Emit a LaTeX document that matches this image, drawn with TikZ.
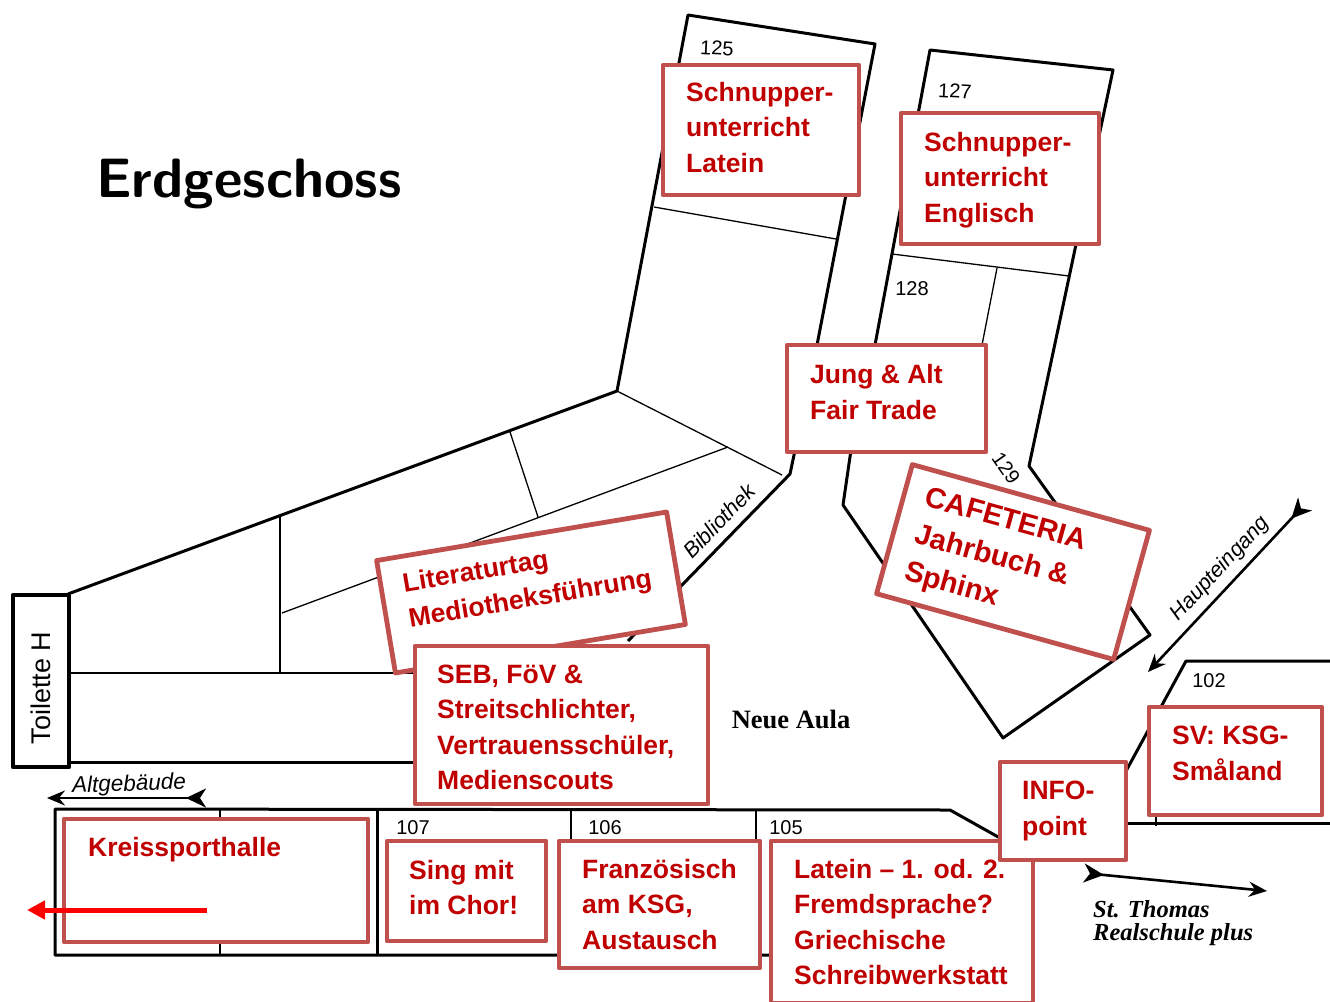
\documentclass[tikz,border=0pt]{standalone}
\usepackage{fontspec}
\setmainfont{Liberation Sans}
\newfontfamily\serifplan{Liberation Serif}
\usetikzlibrary{arrows.meta}
\definecolor{boxred}{HTML}{C0504D}
\definecolor{txtred}{HTML}{C00000}
\tikzset{
  thickwall/.style={draw=black,line width=3pt,line join=round},
  thinwall/.style={draw=black,line width=1.3pt},
  rbox/.style={draw=boxred,fill=white,line width=4.8pt,line join=round,inner sep=0pt,rectangle},
  rtext/.style={text=txtred,inner sep=0pt,anchor=north west,align=left,font=\fontsize{26.5}{35.5}\selectfont\bfseries},
  rtextbig/.style={rtext,font=\fontsize{29}{38.5}\selectfont\bfseries},
  roomno/.style={inner sep=0pt,font=\fontsize{20}{22}\selectfont},
  handlabel/.style={inner sep=0pt,font=\fontsize{21.5}{22}\selectfont\itshape},
  planarrow/.style={draw=black,line width=2.6pt,{Stealth[reversed,length=20pt,width=19pt,inset=6pt]}-{Stealth[length=18pt,width=15pt,inset=6pt]}}
}
\begin{document}
\begin{tikzpicture}[x=1pt,y=-1pt]
\useasboundingbox[fill=white] (0,0) rectangle (1330,1001);
% left wing
\draw[thickwall] (68,594) -- (617,391) -- (688,15) -- (875,44) -- (817,345) -- (794,455) -- (790,474) -- (683,584) -- (628,641);
\draw[thinwall] (654,207) -- (836,239);
\draw[thinwall] (617,391) -- (782,475);
\draw[thinwall] (728,447) -- (282,613);
\draw[thinwall] (510,432) -- (538,517);
\draw[thinwall] (280,517) -- (280,673);
\draw[thinwall] (70,673) -- (415,673);
\draw[thickwall] (70,762) -- (415,762);
% right wing
\draw[thickwall] (875,345) -- (930,50) -- (1113,70) -- (1029,466) -- (1150,635) -- (1003,738) -- (843,505) -- (851,450);
\draw[thinwall] (892,254) -- (1069,276);
\draw[thinwall] (997,268) -- (982,345);
% bottom block
\draw[thickwall] (770,955) -- (55,955) -- (55,809) -- (950,810) -- (1000,838);
\draw[thinwall] (220,809) -- (220,955);
\draw[thickwall] (377,809) -- (377,955);
\draw[thinwall,line width=1.8pt] (571,809) -- (571,841);
\draw[thinwall,line width=1.8pt] (756,809) -- (756,841);
% room 102
\draw[thickwall] (1126,771) -- (1186,661) -- (1330,661);
\draw[thickwall] (1126,823) -- (1330,823);
\draw[thinwall] (1156,815) -- (1156,826);
% plan labels
\node[inner sep=0pt,font=\fontsize{55.5}{58}\selectfont\bfseries\sffamily] (title) at (249,184) {Erdgeschoss};
\node[roomno,rotate=-3] (r125) at (717,48) {125};
\node[roomno,rotate=-3] (r127) at (955,91) {127};
\node[roomno] (r128) at (912,289) {128};
\node[roomno,rotate=-55] (r129) at (1006,468) {129};
\node[roomno] (r107) at (413,828) {107};
\node[roomno] (r106) at (605,828) {106};
\node[roomno] (r105) at (786,828) {105};
\node[roomno] (r102) at (1209,681) {102};
\node[handlabel,rotate=46] (bib) at (719,521) {Bibliothek};
\node[handlabel,rotate=47] (haupt) at (1220,569) {Haupteingang};
\node[handlabel,font=\fontsize{22.5}{24}\selectfont\itshape,rotate=2] (alt) at (129,785) {Altgebäude};
\node[inner sep=0pt,font=\fontsize{26.5}{28}\selectfont\serifplan\bfseries] (aula) at (791,719) {Neue Aula};
\node[inner sep=0pt,align=left,anchor=north west,font=\fontsize{24.5}{23}\selectfont\serifplan\itshape\bfseries] (thomas) at (1093,900) {St. Thomas\\Realschule plus};
% arrows
\coordinate (altA) at (206,798); \coordinate (altB) at (47,798);
\draw[planarrow] (altA) -- (altB);
\coordinate (hA) at (1305,504); \coordinate (hB) at (1148,672);
\draw[planarrow] (hA) -- (hB);
\coordinate (tA) at (1084,873); \coordinate (tB) at (1267,891);
\draw[planarrow] (tA) -- (tB);
% toilet
\node[draw=black,fill=white,line width=4.8pt,line join=round,minimum width=56pt,minimum height=172pt,inner sep=0pt] (toilette) at (41,681) {};
\node[rotate=90,inner sep=0pt,font=\fontsize{27}{28}\selectfont] (toilettetext) at (41,688) {Toilette H};
% boxes
\node[rbox,minimum width=196pt,minimum height=130pt] (b1) at (761,130) {};
\node[rtext] (t1) at (686,82) {Schnupper-\\unterricht\\Latein};
\node[rbox,minimum width=198pt,minimum height=131pt] (b2) at (1000,178.5) {};
\node[rtext] (t2) at (924,132) {Schnupper-\\unterricht\\Englisch};
\node[rbox,minimum width=199pt,minimum height=107pt] (b3) at (886.5,398.5) {};
\node[rtext] (t3) at (810,364.5) {Jung \& Alt\\Fair Trade};
\node[rbox,rotate=9.5,minimum width=294pt,minimum height=114pt] (b4) at (531,592.5) {};
\node[rtext,rotate=9.5] (t4) at (401,573) {Literaturtag\\Mediotheksführung};
\node[rbox,rotate=-15.5,minimum width=246pt,minimum height=134pt] (b5) at (1013,562) {};
\node[rtextbig,rotate=-15.5] (t5) at (929,486) {CAFETERIA\\Jahrbuch \&\\Sphinx};
\node[rbox,minimum width=293pt,minimum height=158pt] (b6) at (561.5,725) {};
\node[rtext] (t6) at (437,664.5) {SEB, FöV \&\\Streitschlichter,\\Vertrauensschüler,\\Medienscouts};
\node[rbox,minimum width=304pt,minimum height=123pt] (b7) at (216,880.5) {};
\node[rtext] (t7) at (88,837) {Kreissporthalle};
\node[rbox,minimum width=159pt,minimum height=100pt] (b8) at (466.5,891) {};
\node[rtext] (t8) at (409,860) {Sing mit\\im Chor!};
\node[rbox,minimum width=201pt,minimum height=127pt] (b9) at (659.5,904.5) {};
\node[rtext] (t9) at (582,859) {Französisch\\am KSG,\\Austausch};
\node[rbox,minimum width=262pt,minimum height=162pt] (b10) at (902,922) {};
\node[rtext] (t10) at (794,859) {Latein – 1. od. 2.\\Fremdsprache?\\Griechische\\Schreibwerkstatt};
\node[rbox,minimum width=126pt,minimum height=98pt] (b11) at (1063,811) {};
\node[rtext] (t11) at (1022,781) {INFO-\\point};
\node[rbox,minimum width=173pt,minimum height=108pt] (b12) at (1235.5,761) {};
\node[rtext] (t12) at (1172,726) {SV: KSG-\\Småland};
% red arrow
\coordinate (rA) at (207,910); \coordinate (rB) at (27,910);
\draw[red,line width=5pt,-{Triangle[length=18pt,width=18pt]}] (rA) -- (rB);
\end{tikzpicture}
\end{document}
